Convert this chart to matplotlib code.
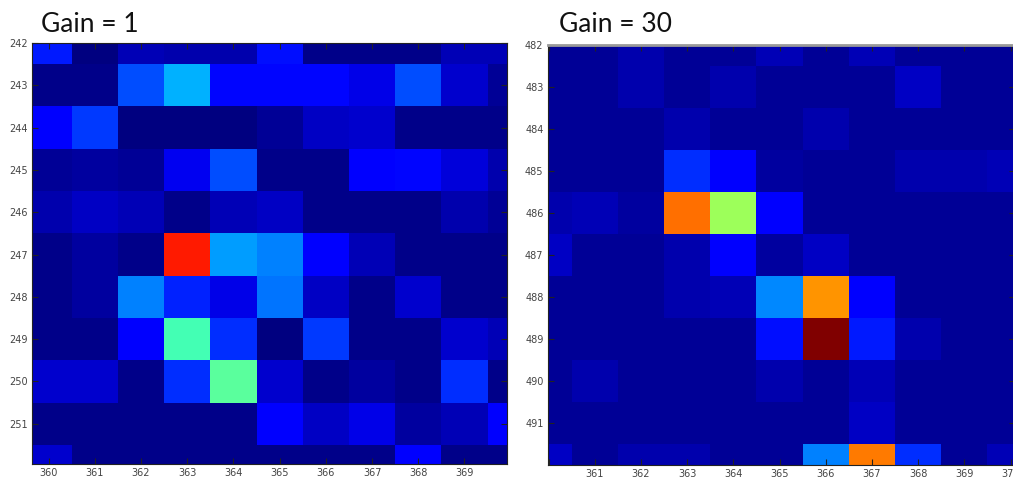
import numpy as np
import matplotlib
matplotlib.use("Agg")
import matplotlib.pyplot as plt

# pixel columns / rows shown in each panel
cols = np.arange(360, 371)
rows_g1 = np.arange(242, 253)
rows_g30 = np.arange(482, 493)

# intensity (jet fraction 0..1), one row per y value
gain1 = np.array([
    [0.15, 0.00, 0.05, 0.04, 0.04, 0.14, 0.01, 0.01, 0.01, 0.05, 0.05],
    [0.01, 0.01, 0.20, 0.30, 0.13, 0.13, 0.13, 0.09, 0.20, 0.07, 0.02],
    [0.12, 0.18, 0.00, 0.00, 0.00, 0.02, 0.06, 0.07, 0.01, 0.01, 0.01],
    [0.02, 0.03, 0.02, 0.10, 0.20, 0.01, 0.01, 0.11, 0.13, 0.08, 0.04],
    [0.04, 0.06, 0.05, 0.01, 0.05, 0.06, 0.01, 0.01, 0.01, 0.04, 0.02],
    [0.01, 0.03, 0.01, 0.88, 0.28, 0.25, 0.11, 0.05, 0.01, 0.01, 0.01],
    [0.01, 0.03, 0.25, 0.16, 0.09, 0.24, 0.06, 0.01, 0.07, 0.01, 0.01],
    [0.01, 0.01, 0.11, 0.43, 0.17, 0.00, 0.18, 0.01, 0.01, 0.07, 0.05],
    [0.07, 0.07, 0.01, 0.17, 0.46, 0.07, 0.01, 0.03, 0.01, 0.17, 0.01],
    [0.01, 0.01, 0.01, 0.01, 0.01, 0.12, 0.06, 0.09, 0.03, 0.05, 0.12],
    [0.07, 0.01, 0.01, 0.01, 0.01, 0.01, 0.01, 0.01, 0.12, 0.01, 0.01],
])

gain30 = np.array([
    [0.02, 0.02, 0.04, 0.02, 0.02, 0.05, 0.02, 0.05, 0.02, 0.02, 0.02],
    [0.02, 0.02, 0.04, 0.02, 0.04, 0.02, 0.02, 0.02, 0.06, 0.02, 0.02],
    [0.02, 0.02, 0.02, 0.04, 0.02, 0.02, 0.04, 0.02, 0.02, 0.02, 0.02],
    [0.02, 0.02, 0.02, 0.17, 0.12, 0.03, 0.02, 0.02, 0.04, 0.04, 0.05],
    [0.04, 0.05, 0.03, 0.79, 0.54, 0.12, 0.02, 0.02, 0.02, 0.02, 0.02],
    [0.06, 0.02, 0.02, 0.04, 0.11, 0.03, 0.06, 0.02, 0.02, 0.02, 0.02],
    [0.02, 0.02, 0.02, 0.04, 0.05, 0.26, 0.75, 0.11, 0.02, 0.02, 0.02],
    [0.02, 0.02, 0.02, 0.02, 0.02, 0.14, 1.00, 0.15, 0.04, 0.02, 0.02],
    [0.02, 0.04, 0.02, 0.02, 0.02, 0.04, 0.02, 0.05, 0.02, 0.02, 0.02],
    [0.02, 0.02, 0.02, 0.02, 0.02, 0.02, 0.02, 0.06, 0.02, 0.02, 0.02],
    [0.06, 0.02, 0.04, 0.04, 0.02, 0.02, 0.25, 0.78, 0.17, 0.02, 0.05],
])

W, H = 1013, 478
fig = plt.figure(figsize=(W / 100, H / 100), dpi=100)


def panel(rect, data, rows, xlim, ylim, title, tx):
    ax = fig.add_axes(rect)
    xe = np.append(cols - 0.5, cols[-1] + 0.5)
    ye = np.append(rows - 0.5, rows[-1] + 0.5)
    ax.pcolormesh(xe, ye, data, cmap="jet", vmin=0, vmax=1,
                  shading="flat", antialiased=False, edgecolors="none")
    ax.set_xlim(*xlim)
    ax.set_ylim(ylim[1], ylim[0])
    ax.set_yticks(rows[:-1])
    ax.tick_params(direction="in", length=4, width=0.8, top=True, right=True,
                   labelsize=7, labelcolor="#444444", color="#222222", pad=3)
    for s in ax.spines.values():
        s.set_linewidth(0.8)
        s.set_color("#222222")
    fig.text(tx / W, 1 - 32 / H, title, fontsize=19, family="Lato",
             color="#111111", ha="left", va="baseline")
    return ax


ax1 = panel([32 / W, (H - 464) / H, 475 / W, 421 / H], gain1, rows_g1,
            (359.64, 369.92), (242.0, 251.95), "Gain = 1", 41)
ax1.set_xticks(cols[:-1])

ax2 = panel([547.7 / W, (H - 465.3) / H, 467 / W, 420.3 / H], gain30, rows_g30,
            (359.98, 370.09), (482.0, 492.01), "Gain = 30", 559)
ax2.spines["top"].set_color("#999999")
ax2.spines["top"].set_linewidth(2)
ax2.set_xticks(cols)
ax2.set_xticklabels([""] + [str(c) for c in cols[1:]])

fig.savefig("out.png", dpi=100)
